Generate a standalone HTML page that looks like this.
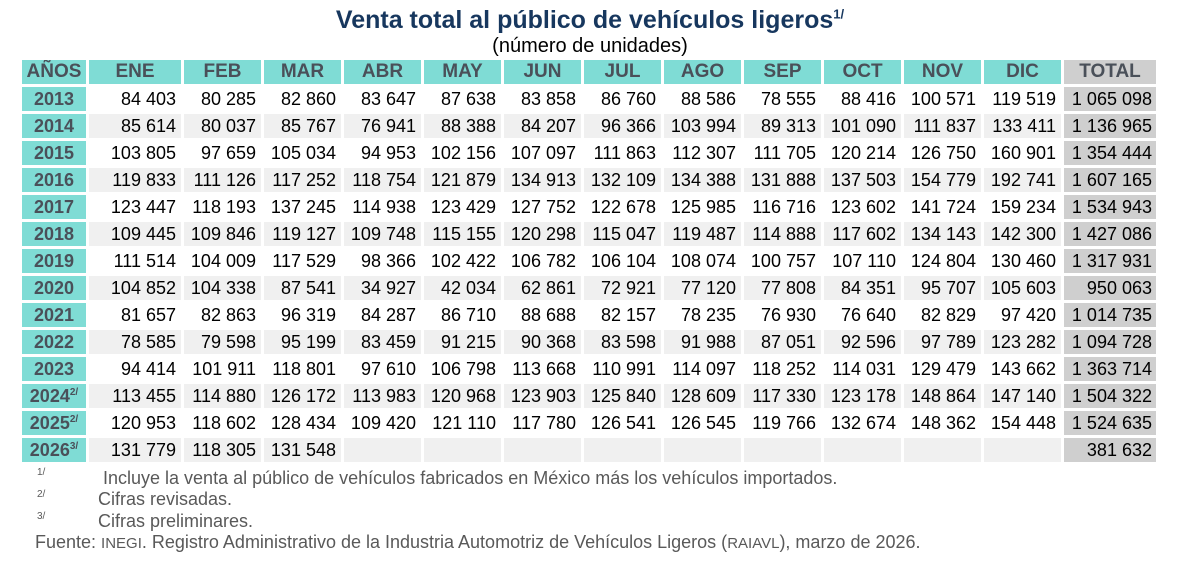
<!DOCTYPE html>
<html><head><meta charset="utf-8"><style>
body{margin:0;width:1180px;height:561px;background:#fff;font-family:"Liberation Sans",Arial,sans-serif;position:relative;overflow:hidden}
.t{position:absolute;left:0;width:1180px;text-align:center;color:#17375e;font-weight:bold;font-size:25px;top:6px}
.t sup{font-size:13px;line-height:0}
.s{position:absolute;left:0;width:1180px;text-align:center;font-size:20px;top:35px;color:#000}
table{position:absolute;left:19px;top:57px;width:1140px;border-collapse:separate;border-spacing:3px;table-layout:fixed}
td,th{height:24px;padding:0 5px 0 0;font-size:18px;text-align:right;white-space:nowrap;line-height:24px;box-sizing:border-box;overflow:hidden}
th{background:#7fdcd5;color:#4a5059;text-align:center;padding:0;font-size:19px}
th.tot{background:#cfcfcf}
td.y{background:#7fdcd5;color:#4a5059;font-weight:bold;text-align:center;padding:0;font-size:18px;overflow:visible}
td.y sup{font-size:10px;line-height:0;vertical-align:7px}
tr.g td{background:#f0f0f0}
tr.g td.y{background:#7fdcd5}
td.tt,tr.g td.tt{background:#cfcfcf;padding-right:4px}
.f{position:absolute;color:#595959;font-size:18px;white-space:nowrap}
.f sup{font-size:10px}
</style></head><body>
<div class="t">Venta total al público de vehículos ligeros<sup>1/</sup></div>
<div class="s">(número de unidades)</div>
<table>
<colgroup><col style="width:64px"><col style="width:92px"><col style="width:77px"><col style="width:77px"><col style="width:77px"><col style="width:77px"><col style="width:77px"><col style="width:77px"><col style="width:77px"><col style="width:77px"><col style="width:77px"><col style="width:77px"><col style="width:77px"><col style="width:92px"></colgroup>
<tr><th>AÑOS</th><th>ENE</th><th>FEB</th><th>MAR</th><th>ABR</th><th>MAY</th><th>JUN</th><th>JUL</th><th>AGO</th><th>SEP</th><th>OCT</th><th>NOV</th><th>DIC</th><th class="tot">TOTAL</th></tr>
<tr><td class="y">2013</td><td>84 403</td><td>80 285</td><td>82 860</td><td>83 647</td><td>87 638</td><td>83 858</td><td>86 760</td><td>88 586</td><td>78 555</td><td>88 416</td><td>100 571</td><td>119 519</td><td class="tt">1 065 098</td></tr>
<tr class="g"><td class="y">2014</td><td>85 614</td><td>80 037</td><td>85 767</td><td>76 941</td><td>88 388</td><td>84 207</td><td>96 366</td><td>103 994</td><td>89 313</td><td>101 090</td><td>111 837</td><td>133 411</td><td class="tt">1 136 965</td></tr>
<tr><td class="y">2015</td><td>103 805</td><td>97 659</td><td>105 034</td><td>94 953</td><td>102 156</td><td>107 097</td><td>111 863</td><td>112 307</td><td>111 705</td><td>120 214</td><td>126 750</td><td>160 901</td><td class="tt">1 354 444</td></tr>
<tr class="g"><td class="y">2016</td><td>119 833</td><td>111 126</td><td>117 252</td><td>118 754</td><td>121 879</td><td>134 913</td><td>132 109</td><td>134 388</td><td>131 888</td><td>137 503</td><td>154 779</td><td>192 741</td><td class="tt">1 607 165</td></tr>
<tr><td class="y">2017</td><td>123 447</td><td>118 193</td><td>137 245</td><td>114 938</td><td>123 429</td><td>127 752</td><td>122 678</td><td>125 985</td><td>116 716</td><td>123 602</td><td>141 724</td><td>159 234</td><td class="tt">1 534 943</td></tr>
<tr class="g"><td class="y">2018</td><td>109 445</td><td>109 846</td><td>119 127</td><td>109 748</td><td>115 155</td><td>120 298</td><td>115 047</td><td>119 487</td><td>114 888</td><td>117 602</td><td>134 143</td><td>142 300</td><td class="tt">1 427 086</td></tr>
<tr><td class="y">2019</td><td>111 514</td><td>104 009</td><td>117 529</td><td>98 366</td><td>102 422</td><td>106 782</td><td>106 104</td><td>108 074</td><td>100 757</td><td>107 110</td><td>124 804</td><td>130 460</td><td class="tt">1 317 931</td></tr>
<tr class="g"><td class="y">2020</td><td>104 852</td><td>104 338</td><td>87 541</td><td>34 927</td><td>42 034</td><td>62 861</td><td>72 921</td><td>77 120</td><td>77 808</td><td>84 351</td><td>95 707</td><td>105 603</td><td class="tt">950 063</td></tr>
<tr><td class="y">2021</td><td>81 657</td><td>82 863</td><td>96 319</td><td>84 287</td><td>86 710</td><td>88 688</td><td>82 157</td><td>78 235</td><td>76 930</td><td>76 640</td><td>82 829</td><td>97 420</td><td class="tt">1 014 735</td></tr>
<tr class="g"><td class="y">2022</td><td>78 585</td><td>79 598</td><td>95 199</td><td>83 459</td><td>91 215</td><td>90 368</td><td>83 598</td><td>91 988</td><td>87 051</td><td>92 596</td><td>97 789</td><td>123 282</td><td class="tt">1 094 728</td></tr>
<tr><td class="y">2023</td><td>94 414</td><td>101 911</td><td>118 801</td><td>97 610</td><td>106 798</td><td>113 668</td><td>110 991</td><td>114 097</td><td>118 252</td><td>114 031</td><td>129 479</td><td>143 662</td><td class="tt">1 363 714</td></tr>
<tr class="g"><td class="y">2024<sup>2/</sup></td><td>113 455</td><td>114 880</td><td>126 172</td><td>113 983</td><td>120 968</td><td>123 903</td><td>125 840</td><td>128 609</td><td>117 330</td><td>123 178</td><td>148 864</td><td>147 140</td><td class="tt">1 504 322</td></tr>
<tr><td class="y">2025<sup>2/</sup></td><td>120 953</td><td>118 602</td><td>128 434</td><td>109 420</td><td>121 110</td><td>117 780</td><td>126 541</td><td>126 545</td><td>119 766</td><td>132 674</td><td>148 362</td><td>154 448</td><td class="tt">1 524 635</td></tr>
<tr class="g"><td class="y">2026<sup>3/</sup></td><td>131 779</td><td>118 305</td><td>131 548</td><td></td><td></td><td></td><td></td><td></td><td></td><td></td><td></td><td></td><td class="tt">381 632</td></tr>
</table>
<div class="f" style="left:37px;top:466px"><sup>1/</sup></div><div class="f" style="left:103px;top:468px">Incluye la venta al público de vehículos fabricados en México más los vehículos importados.</div>
<div class="f" style="left:37px;top:488px"><sup>2/</sup></div><div class="f" style="left:98px;top:489px">Cifras revisadas.</div>
<div class="f" style="left:37px;top:510px"><sup>3/</sup></div><div class="f" style="left:98px;top:511px">Cifras preliminares.</div>
<div class="f" style="left:35px;top:532px">Fuente: <span style="font-size:15px">INEGI</span>. Registro Administrativo de la Industria Automotriz de Vehículos Ligeros (<span style="font-size:15px">RAIAVL</span>), marzo de 2026.</div>
</body></html>
